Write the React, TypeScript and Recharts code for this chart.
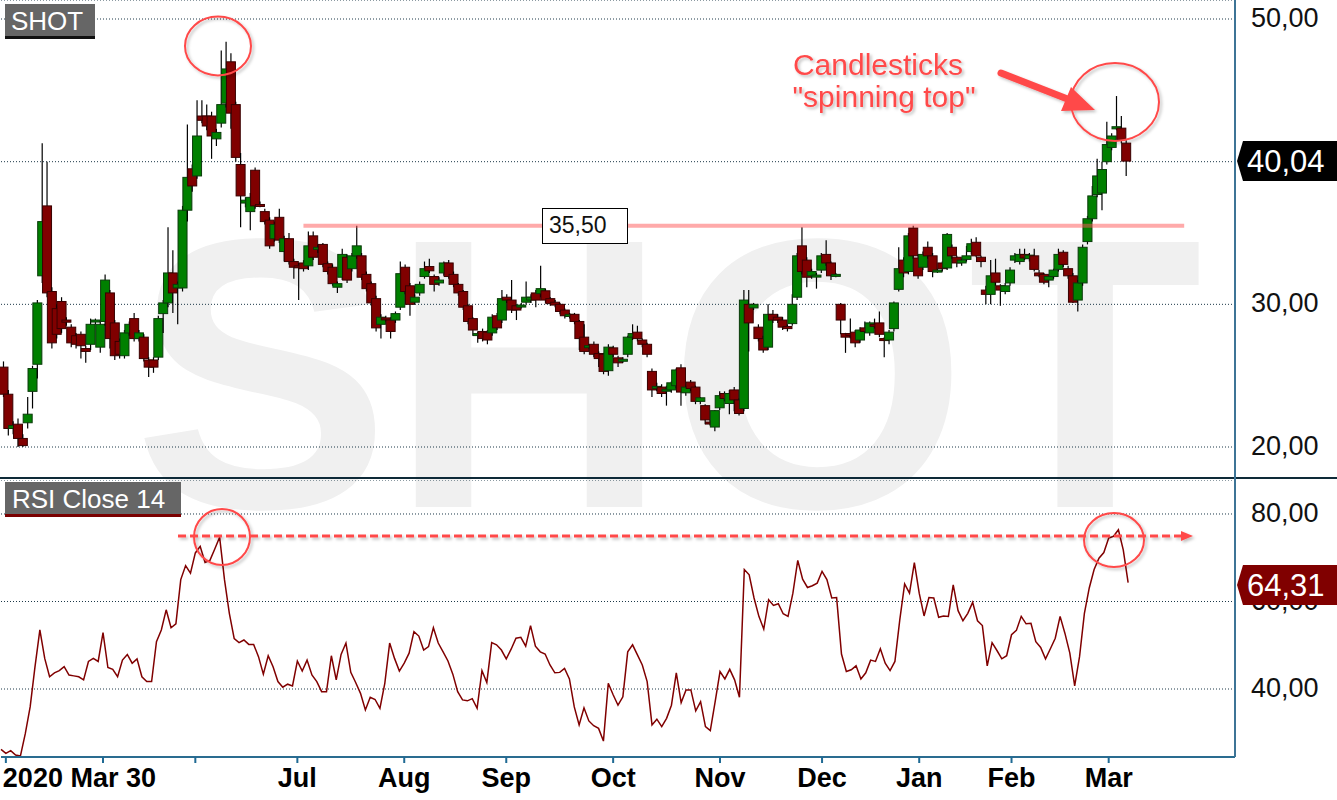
import React from 'react';
import {
  ComposedChart,
  Bar,
  Line,
  XAxis,
  YAxis,
  CartesianGrid,
  ReferenceLine,
} from 'recharts';

const FONT = '"Liberation Sans", Arial, sans-serif';

// daily candles, 2020-03-30 .. 2021-03-05
const opens = [
  25.6, 23.7, 21.3, 21.6, 20.6, 21.7, 23.9, 25.8, 32.0, 36.9,
  30.9, 29.7, 30.2, 28.9, 28.4, 27.8, 27.9, 26.9, 27.2, 28.85,
  27.0, 28.8, 30.8, 28.7, 27.4, 26.4, 28.0, 29.0, 27.6, 27.7,
  26.1, 26.1, 26.3, 29.35, 30.1, 32.2, 31.15, 31.15, 36.6, 39.5,
  39.0, 43.2, 43.2, 43.2, 41.6, 42.7, 44.1, 47.0, 44.0, 39.8,
  37.1, 36.5, 39.4, 37.0, 36.5, 35.9, 34.6, 36.1, 33.7, 34.6,
  33.0, 32.7, 32.9, 32.7, 34.8, 33.85, 34.2, 32.85, 32.6, 31.2,
  31.9, 33.3, 32.5, 33.4, 33.4, 32.1, 31.45, 30.4, 28.6, 29.05,
  28.9, 28.9, 29.8, 32.6, 31.3, 30.15, 30.8, 31.95, 32.65, 31.95,
  31.5, 32.2, 32.9, 32.1, 31.4, 30.9, 29.9, 29.0, 27.85, 28.1,
  28.05, 28.0, 29.2, 28.9, 30.5, 30.3, 29.9, 29.85, 30.15, 30.3,
  30.8, 30.75, 30.95, 30.4, 30.15, 30.0, 29.6, 29.15, 29.3, 28.8,
  27.7, 27.05, 27.2, 26.55, 26.5, 25.35, 26.95, 26.25, 26.05, 26.5,
  27.7, 28.05, 27.5, 27.2, 25.3, 24.15, 24.2, 23.95, 24.0, 24.3,
  25.55, 23.8, 24.55, 24.2, 23.2, 22.9, 21.75, 21.4, 22.75, 23.75,
  23.05, 24.0, 23.3, 22.7, 30.0, 29.75, 28.4, 27.6, 27.0, 29.3,
  29.1, 28.9, 28.45, 28.65, 30.5, 34.1, 33.1, 32.0, 31.95, 32.4,
  33.5, 32.9, 32.05, 30.0, 27.95, 27.95, 28.05, 27.5, 28.35, 28.0,
  28.6, 28.7, 27.6, 27.5, 28.3, 31.05, 33.1, 32.3, 35.35, 33.25,
  32.6, 34.0, 33.4, 32.3, 32.9, 32.55, 34.0, 33.3, 32.9, 33.15,
  33.7, 34.35, 33.3, 31.0, 30.7, 32.2, 31.3, 30.9, 31.5, 33.1,
  33.0, 33.5, 33.2, 33.4, 32.2, 32.1, 31.7, 31.95, 32.45, 33.65,
  32.5, 32.0, 30.3, 31.5, 34.4, 36.0, 37.7, 37.8, 40.0, 41.0,
  42.3, 42.35, 41.3,
];

const highs = [
  26.0, 24.0, 21.8, 22.0, 20.9, 23.5, 25.7, 30.3, 41.3, 40.0,
  31.2, 30.0, 30.5, 29.1, 28.6, 28.0, 28.1, 27.1, 29.0, 29.0,
  28.8, 32.1, 31.0, 28.9, 27.6, 28.2, 28.8, 29.4, 28.2, 27.9,
  26.3, 26.3, 29.2, 30.3, 35.4, 33.8, 31.6, 36.9, 42.6, 39.8,
  44.3, 44.3, 44.0, 43.5, 42.3, 47.8, 48.4, 47.6, 44.2, 40.6,
  37.5, 37.8, 39.6, 37.2, 36.7, 36.1, 35.8, 36.7, 34.8, 35.0,
  33.2, 32.9, 33.1, 35.1, 35.1, 34.2, 34.3, 33.0, 32.8, 31.6,
  33.9, 33.5, 33.6, 35.5, 33.6, 32.3, 31.6, 30.6, 29.3, 29.2,
  29.1, 29.5, 33.0, 32.8, 31.5, 30.7, 31.6, 33.0, 33.2, 32.1,
  31.9, 33.0, 33.1, 32.3, 31.5, 31.0, 30.0, 29.1, 28.1, 28.3,
  28.2, 29.3, 29.4, 31.0, 30.7, 31.7, 30.0, 30.1, 31.6, 30.7,
  31.0, 32.7, 31.1, 30.5, 30.3, 30.1, 29.7, 29.4, 29.4, 28.9,
  28.6, 27.2, 27.4, 26.7, 26.6, 27.2, 27.1, 26.4, 26.3, 27.8,
  28.6, 28.5, 27.6, 27.3, 25.5, 24.5, 24.4, 24.3, 24.6, 25.5,
  25.8, 24.3, 24.7, 24.3, 23.5, 23.0, 21.9, 22.6, 23.9, 23.9,
  24.0, 24.2, 23.4, 31.0, 31.0, 30.1, 28.6, 27.8, 30.0, 29.6,
  29.3, 29.1, 28.6, 30.7, 33.6, 35.4, 33.3, 32.5, 32.2, 33.6,
  34.5, 33.0, 32.2, 30.1, 28.0, 29.0, 28.2, 28.4, 28.8, 28.8,
  29.0, 29.5, 27.7, 28.2, 30.2, 34.0, 33.3, 35.0, 35.5, 33.5,
  33.7, 34.4, 33.6, 32.5, 33.0, 35.0, 34.2, 33.4, 33.2, 34.1,
  34.6, 34.7, 33.4, 31.3, 33.1, 33.2, 31.4, 31.5, 32.6, 33.6,
  33.9, 33.9, 33.6, 33.9, 32.4, 32.2, 32.0, 32.5, 33.9, 33.8,
  32.7, 32.2, 31.7, 34.2, 36.2, 38.3, 40.2, 40.0, 42.8, 42.0,
  44.6, 43.2, 41.5,
];

const lows = [
  23.5, 20.8, 20.9, 20.0, 20.0, 21.3, 22.7, 24.8, 31.5, 30.5,
  26.9, 27.6, 28.0, 28.5, 27.0, 26.9, 26.2, 25.9, 26.8, 28.6,
  26.6, 28.5, 26.9, 26.1, 26.2, 26.2, 27.8, 27.4, 27.4, 26.0,
  24.9, 25.2, 26.1, 28.0, 29.8, 29.4, 28.6, 30.9, 35.8, 37.9,
  38.8, 42.7, 42.2, 40.2, 41.1, 42.4, 43.8, 42.3, 40.0, 35.4,
  36.8, 35.2, 36.7, 36.8, 35.6, 33.9, 34.4, 34.3, 33.0, 32.8,
  31.8, 30.3, 32.3, 32.4, 33.1, 33.6, 32.6, 32.1, 31.3, 30.8,
  31.7, 31.5, 32.3, 33.2, 31.7, 30.9, 29.9, 28.1, 27.6, 28.8,
  27.6, 28.7, 29.6, 30.7, 29.2, 30.0, 30.6, 31.8, 32.2, 30.9,
  31.3, 32.0, 31.8, 31.2, 30.6, 29.6, 28.6, 27.8, 27.3, 27.4,
  27.2, 27.8, 28.2, 28.7, 30.1, 29.4, 28.9, 29.7, 30.0, 30.1,
  29.8, 30.5, 30.1, 29.9, 29.8, 29.3, 29.0, 29.0, 28.6, 26.8,
  26.5, 26.9, 26.3, 25.6, 25.1, 25.0, 26.3, 25.6, 25.9, 26.3,
  27.5, 27.4, 27.0, 26.3, 23.5, 23.9, 23.5, 22.9, 23.8, 24.1,
  22.9, 23.6, 23.9, 23.0, 23.0, 21.6, 21.5, 21.1, 22.6, 23.2,
  22.3, 22.5, 22.2, 22.5, 26.7, 29.6, 27.4, 26.6, 26.8, 28.7,
  28.7, 28.2, 28.1, 28.5, 30.3, 32.1, 31.2, 31.8, 31.1, 32.2,
  32.7, 31.7, 31.9, 27.9, 26.6, 27.6, 27.0, 27.3, 28.0, 27.8,
  28.3, 27.7, 26.3, 27.2, 28.1, 30.9, 31.9, 32.1, 33.2, 31.8,
  32.4, 33.2, 31.9, 32.2, 32.3, 32.4, 33.2, 32.6, 32.7, 33.0,
  33.5, 33.3, 32.6, 30.0, 30.0, 31.3, 29.9, 30.7, 31.3, 32.9,
  32.8, 33.1, 33.0, 32.3, 31.9, 31.4, 31.2, 31.8, 32.3, 32.6,
  31.8, 30.1, 29.5, 31.3, 34.2, 35.8, 37.5, 36.6, 39.8, 40.8,
  42.2, 41.3, 39.0,
];

const closes = [
  23.7, 21.3, 21.5, 20.6, 20.1, 22.3, 25.5, 30.1, 35.8, 30.8,
  27.3, 27.9, 28.3, 28.75, 27.3, 27.2, 27.1, 26.7, 28.6, 28.9,
  28.6, 31.7, 27.6, 26.4, 26.5, 28.0, 28.6, 27.6, 28.0, 26.2,
  25.6, 25.6, 29.0, 30.1, 32.2, 30.8, 31.4, 36.6, 38.9, 38.3,
  41.8, 42.9, 42.5, 41.8, 42.05, 44.0, 46.5, 43.4, 40.3, 37.6,
  37.3, 37.5, 36.9, 36.95, 35.8, 34.1, 35.6, 34.5, 34.6, 33.0,
  32.6, 32.6, 32.5, 34.1, 33.3, 34.0, 32.8, 32.3, 31.45, 31.45,
  33.5, 31.7, 33.4, 34.1, 31.9, 31.1, 30.1, 28.35, 29.1, 29.0,
  28.1, 29.35, 32.15, 30.9, 30.0, 30.5, 31.4, 32.5, 32.35, 31.4,
  31.7, 32.9, 31.95, 31.4, 30.8, 29.8, 28.8, 28.2, 27.95, 27.6,
  27.5, 29.1, 28.35, 30.4, 30.3, 29.6, 29.6, 29.95, 30.5, 30.5,
  30.3, 31.1, 30.3, 30.05, 29.95, 29.5, 29.2, 29.3, 28.8, 27.6,
  26.7, 27.1, 26.5, 26.2, 25.3, 27.0, 26.5, 25.9, 26.15, 27.7,
  27.95, 27.6, 27.2, 26.5, 24.0, 24.25, 23.75, 24.05, 24.5, 25.4,
  23.85, 24.2, 24.1, 23.2, 23.45, 21.9, 21.65, 22.55, 23.6, 23.4,
  23.75, 23.3, 22.35, 30.3, 28.7, 30.0, 27.6, 26.8, 29.3, 28.9,
  28.9, 28.4, 28.3, 30.0, 33.4, 32.3, 31.9, 32.3, 32.05, 33.4,
  32.9, 32.0, 32.1, 28.9, 27.7, 27.85, 27.3, 28.2, 28.1, 28.7,
  28.5, 27.9, 27.55, 28.05, 30.1, 32.5, 32.2, 34.8, 33.4, 32.0,
  33.5, 33.4, 32.3, 32.4, 32.5, 34.9, 33.4, 32.9, 33.1, 33.4,
  34.25, 33.4, 33.0, 30.7, 32.0, 31.55, 31.0, 31.3, 32.4, 33.4,
  33.5, 33.25, 33.45, 32.45, 32.0, 31.55, 31.95, 32.4, 33.5, 32.8,
  32.0, 30.15, 31.5, 34.0, 36.0, 37.6, 39.0, 39.45, 41.2, 41.8,
  42.45, 41.55, 40.04,
];

const rsiValues = [
  26.2, 25.3, 25.9, 24.9, 24.7, 29.8, 35.9, 45.1, 53.5, 47.0,
  42.8, 43.7, 44.2, 45.1, 43.2, 43.0, 42.8, 42.1, 46.3, 47.0,
  46.3, 52.9, 44.9, 44.5, 42.8, 46.6, 47.9, 45.9, 46.9, 42.8,
  41.7, 41.7, 50.8, 53.5, 58.1, 54.0, 54.9, 65.0, 68.2, 66.5,
  71.1, 72.6, 68.9, 69.4, 72.0, 74.7, 65.0, 57.3, 51.5, 50.6,
  51.2, 50.2, 50.2, 47.4, 43.4, 47.6, 45.1, 41.7, 40.4, 41.1,
  40.7, 46.4, 44.1, 46.6, 43.2, 41.7, 39.4, 39.4, 47.6, 42.1,
  47.9, 50.5, 43.8, 41.5, 39.0, 35.2, 38.1, 37.6, 35.6, 41.3,
  50.5, 47.0, 44.1, 45.9, 48.2, 53.1,
  52.1, 48.9, 49.7, 54.0, 50.5, 48.5, 46.4, 43.4, 39.4, 37.5,
  37.3, 37.8, 35.6, 44.2, 41.5, 50.6, 50.1, 48.9, 46.9, 49.1,
  51.6, 51.8, 49.8, 54.5, 49.8, 48.5, 48.0, 45.5, 43.7, 43.8,
  44.7, 42.3, 35.9, 31.8, 35.7, 32.7, 31.6, 31.0, 28.1, 41.3,
  38.7, 36.3, 38.2, 48.5, 50.1, 47.8, 45.5, 41.7, 31.8, 33.1,
  31.4, 33.3, 36.3, 43.7, 36.9, 39.8, 39.8, 35.0, 37.1, 31.4,
  30.5, 37.1, 44.0, 42.3, 44.5, 42.1, 38.1, 67.3, 66.1, 60.8,
  56.6, 53.7, 60.4, 59.1, 59.5, 57.2, 56.6, 61.9, 69.4, 65.1,
  63.2, 63.6, 64.2,
  66.9, 65.0, 60.8, 60.9, 48.0, 44.0, 44.4, 45.3, 42.3, 43.7,
  46.6, 46.3, 49.2, 45.9, 44.2, 46.3, 55.8, 64.0, 61.9, 68.9,
  61.9, 56.7, 60.9, 60.8, 56.4, 56.7, 56.6, 63.8, 57.9, 55.6,
  57.3, 59.8, 55.6, 54.5, 45.3, 50.6, 48.8, 46.9, 47.6, 52.4,
  53.4, 56.6, 54.9, 55.0, 50.8, 49.5, 46.9, 49.2, 51.6, 56.6,
  52.7, 48.2, 40.7, 47.4, 57.3, 63.1, 67.3, 69.9, 71.2, 74.5,
  74.9, 76.4, 71.8, 64.31,
];

const monthTicks = [1, 21, 40, 61, 83, 104, 126, 148, 169, 189, 208, 228];
const monthLabels = ['2020 Mar 30', '', '', 'Jul', 'Aug', 'Sep', 'Oct', 'Nov', 'Dec', 'Jan', 'Feb', 'Mar'];
const priceTicks = [20, 30, 40, 50];
const rsiTicks = [40, 60, 80];

// total slots on the time axis (empty space on the right of the last candle)
const SLOTS = 255;
const PRICE_DOMAIN = [17.828, 51.332];
const RSI_DOMAIN = [24.46, 87.77];

const rows = Array.from({ length: SLOTS }, (_, i) => ({
  i,
  o: i < closes.length ? opens[i] : null,
  h: i < closes.length ? highs[i] : null,
  l: i < closes.length ? lows[i] : null,
  c: i < closes.length ? closes[i] : null,
  range: i < closes.length ? [lows[i], highs[i]] : null,
  rsi: i < rsiValues.length ? rsiValues[i] : null,
}));

const fmt = (v: number) => v.toFixed(2).replace('.', ',');

const Candle = (props: any) => {
  const { x, y, width, height, payload } = props;
  if (!payload || payload.o == null || height == null) return null;
  const top = Math.min(y, y + height);
  const h = Math.abs(height);
  if (!h) return null;
  const ppu = h / (payload.h - payload.l);
  const cx = x + width / 2;
  const yOf = (v: number) => top + (payload.h - v) * ppu;
  const up = payload.c >= payload.o;
  const bTop = yOf(Math.max(payload.o, payload.c));
  const bBot = yOf(Math.min(payload.o, payload.c));
  const bh = Math.max(bBot - bTop, 2);
  return (
    <g>
      <line x1={cx} x2={cx} y1={top} y2={top + h} stroke="#000" strokeWidth={1.2} />
      <rect
        x={cx - 4.5}
        y={bTop}
        width={9}
        height={bh}
        fill={up ? '#008000' : '#800000'}
        stroke={up ? '#0b3a0b' : '#380000'}
        strokeWidth={1}
      />
    </g>
  );
};

const ValueTick = ({ y, payload }: any) => (
  <text x={1251} y={y} dy={-1} dominantBaseline="central" fontSize={27} fontFamily={FONT} fill="#111">
    {fmt(payload.value)}
  </text>
);

const RSI_PLOT_H = 277;

const MonthTick = ({ x, payload }: any) => {
  const k = monthTicks.indexOf(payload.value);
  if (k < 0) return null;
  return (
    <g>
      <line x1={x} x2={x} y1={RSI_PLOT_H} y2={RSI_PLOT_H + 6} stroke="#1f6a94" strokeWidth={2} />
      <text
        x={k === 0 ? x - 3 : x}
        y={RSI_PLOT_H + 30}
        textAnchor={k === 0 ? 'start' : 'middle'}
        fontSize={27}
        fontWeight="bold"
        fontFamily={FONT}
        fill="#000"
      >
        {monthLabels[k]}
      </text>
    </g>
  );
};

const RED = '#ff4a4a';

export default function App() {
  return (
    <div style={{ position: 'absolute', left: 0, top: 0, width: 1337, height: 800, background: '#fff', overflow: 'hidden' }}>
      {/* watermark */}
      <svg width={1337} height={800} style={{ position: 'absolute', left: 0, top: 0 }}>
        <text x={668} y={507} textAnchor="middle" fontSize={385} fontWeight="bold" fontFamily={FONT} fill="#f0f0f0">
          SHOT
        </text>
      </svg>

      <div style={{ position: 'absolute', left: 0, top: 0 }}>
        <ComposedChart width={1337} height={478} data={rows} margin={{ top: 0, right: 0, bottom: 0, left: 1 }}>
          <CartesianGrid vertical={false} stroke="#1c3848" strokeDasharray="1 2" />
          <XAxis dataKey="i" type="category" hide />
          <YAxis
            orientation="right"
            width={102}
            domain={PRICE_DOMAIN}
            ticks={priceTicks}
            allowDataOverflow
            axisLine={false}
            tickLine={false}
            tick={<ValueTick />}
          />
          <Bar dataKey="range" shape={(p: any) => <Candle {...p} />} isAnimationActive={false} />
          <ReferenceLine
            segment={[{ x: 62, y: 35.5 }, { x: 244, y: 35.5 }]}
            stroke="#ff5555"
            strokeOpacity={0.5}
            strokeWidth={4}
          />
        </ComposedChart>
      </div>

      <div style={{ position: 'absolute', left: 0, top: 477, width: 1337, height: 2, background: '#0e2a38' }} />

      <div style={{ position: 'absolute', left: 0, top: 480 }}>
        <ComposedChart width={1337} height={320} data={rows} margin={{ top: 0, right: 0, bottom: 0, left: 1 }}>
          <CartesianGrid vertical={false} stroke="#1c3848" strokeDasharray="1 2" />
          <XAxis
            dataKey="i"
            type="category"
            height={43}
            interval={0}
            tickLine={false}
            axisLine={{ stroke: '#2a6c90', strokeWidth: 2 }}
            tick={<MonthTick />}
          />
          <YAxis
            orientation="right"
            width={102}
            domain={RSI_DOMAIN}
            ticks={rsiTicks}
            allowDataOverflow
            axisLine={false}
            tickLine={false}
            tick={<ValueTick />}
          />
          <Line dataKey="rsi" stroke="#800000" strokeWidth={1.5} dot={false} isAnimationActive={false} />
        </ComposedChart>
      </div>

      <div style={{ position: 'absolute', left: 1234, top: 0, width: 2, height: 757, background: '#3d7496' }} />

      {/* annotations */}
      <svg width={1337} height={800} style={{ position: 'absolute', left: 0, top: 0, pointerEvents: 'none' }}>
        <defs>
          <filter id="sh" x="-20%" y="-20%" width="140%" height="140%">
            <feDropShadow dx="2" dy="2" stdDeviation="1.5" floodColor="#000" floodOpacity="0.25" />
          </filter>
        </defs>

        {/* panel tags */}
        <rect x={5} y={4} width={90} height={33} fill="#666" />
        <rect x={5} y={36} width={90} height={3} fill="#111" />
        <text x={11} y={30} fontSize={26} fontFamily={FONT} fill="#fff">SHOT</text>

        <rect x={5} y={482} width={176} height={33} fill="#666" />
        <rect x={5} y={514} width={176} height={3} fill="#7a0000" />
        <text x={12} y={508} fontSize={26} fontFamily={FONT} fill="#fff">RSI Close 14</text>

        {/* 35,50 label */}
        <rect x={542.5} y={208.5} width={85} height={35} fill="#fff" stroke="#000" strokeWidth={1} />
        <text x={549} y={233} fontSize={23} fontFamily={FONT} fill="#111">35,50</text>

        {/* last value tags */}
        <path d="M1237,161 L1243,141 H1337 V181 H1243 Z" fill="#000" />
        <text x={1247} y={172} fontSize={31} fontFamily={FONT} fill="#fff">40,04</text>
        <path d="M1237,585 L1243,565 H1337 V605 H1243 Z" fill="#800000" />
        <text x={1247} y={596} fontSize={31} fontFamily={FONT} fill="#fff">64,31</text>

        <g filter="url(#sh)">
          <ellipse cx={218} cy={46} rx={33} ry={29.5} fill="none" stroke={RED} strokeWidth={2} />
          <ellipse cx={1115} cy={102} rx={44} ry={39} fill="none" stroke={RED} strokeWidth={2} />
          <ellipse cx={222} cy={537} rx={28} ry={28} fill="none" stroke={RED} strokeWidth={2} />
          <ellipse cx={1114} cy={540} rx={30} ry={27} fill="none" stroke={RED} strokeWidth={2} />

          <line x1={178} x2={1184} y1={536} y2={536} stroke={RED} strokeWidth={3} strokeDasharray="8 4" />
          <polygon points="1181,531 1193,536 1181,541" fill={RED} />

          <line x1={1001} y1={73} x2={1070} y2={100} stroke={RED} strokeWidth={7} strokeLinecap="round" />
          <polygon points="1071,87 1095,110 1061,111" fill={RED} />

          <text x={878} y={75} textAnchor="middle" fontSize={30} fontFamily={FONT} fill={RED}>Candlesticks</text>
          <text x={884} y={107} textAnchor="middle" fontSize={30} fontFamily={FONT} fill={RED}>{'"spinning top"'}</text>
        </g>
      </svg>
    </div>
  );
}
